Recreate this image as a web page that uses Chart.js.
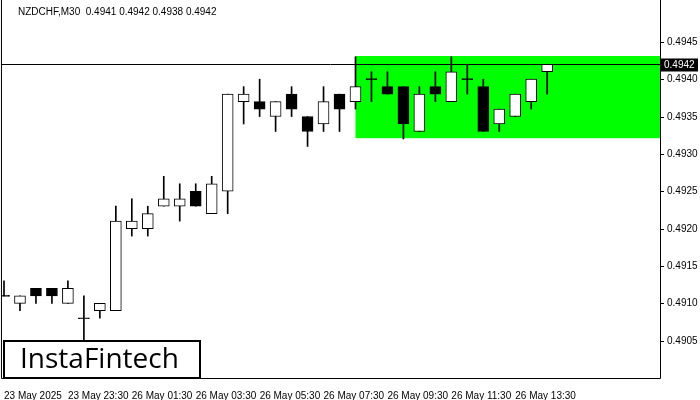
<!DOCTYPE html>
<html><head><meta charset="utf-8">
<script src="https://cdn.jsdelivr.net/npm/chart.js@4"></script>
<style>html,body{margin:0;padding:0;background:#fff}#w{position:relative;width:700px;height:400px}</style>
</head><body><div id="w"><canvas id="c" width="700" height="400"></canvas></div>
<script>
const symbolTitle = "NZDCHF,M30  0.4941 0.4942 0.4938 0.4942";
const tickLabels = ["23 May 2025","23 May 23:30","26 May 01:30","26 May 03:30","26 May 05:30","26 May 07:30","26 May 09:30","26 May 11:30","26 May 13:30"];
const openV  = [.4911,.4910,.4912,.4912,.4910,.4908,.4909,.4909,.4920,.4920,.4923,.4923,.4925,.4922,.4925,.4937,.4937,.4935,.4938,.4935,.4934,.4938,.4937,.4940,.4939,.4939,.4933,.4939,.4937,.4940,.4939,.4934,.4935,.4937,.4941];
const highV  = [.4913,.4911,.4912,.4912,.4913,.4911,.4910,.4923,.4924,.4923,.4927,.4926,.4926,.4927,.4938,.4939,.4940,.4937,.4939,.4935,.4939,.4938,.4943,.4941,.4941,.4939,.4939,.4941,.4943,.4942,.4940,.4936,.4938,.4940,.4942];
const lowV   = [.4911,.4909,.4910,.4910,.4910,.4905,.4908,.4909,.4919,.4919,.4923,.4921,.4923,.4922,.4922,.4934,.4935,.4933,.4935,.4931,.4933,.4933,.4936,.4937,.4938,.4932,.4933,.4937,.4937,.4938,.4933,.4933,.4935,.4936,.4938];
const closeV = [.4911,.4911,.4911,.4911,.4912,.4908,.4910,.4921,.4921,.4922,.4924,.4924,.4923,.4926,.4938,.4938,.4936,.4937,.4936,.4933,.4937,.4936,.4939,.4940,.4938,.4934,.4938,.4938,.4941,.4940,.4933,.4936,.4938,.4940,.4942];
const zoneStart = 22, zoneTop = 0.49431, zoneBottom = 0.49321;
const currentPrice = 0.4942;
const yTicks = [0.4905,0.4910,0.4915,0.4920,0.4925,0.4930,0.4935,0.4940,0.4945];

const idx = openV.map((_,i)=>i);
const wicks = idx.map(i=>({x:i,y:[lowV[i],highV[i]]}));
const bodies = idx.map(i=>{
  const o=openV[i],c=closeV[i];
  if(o===c) return {x:i,y:[o-0.000007,o+0.000007]};
  return {x:i,y:[o,c]};
});
const bodyFill = idx.map(i=> closeV[i]>openV[i] ? '#fff' : '#000');
const FONT='10px "Liberation Sans", Arial';

const overlay = {
  id:'overlay',
  beforeDatasetsDraw(ch){
    const {ctx,scales:{x,y},chartArea:a}=ch;
    ctx.save();
    ctx.fillStyle='#00ff00';
    const x0=x.getPixelForValue(zoneStart);
    ctx.fillRect(x0,y.getPixelForValue(zoneTop),a.right-x0,y.getPixelForValue(zoneBottom)-y.getPixelForValue(zoneTop));
    ctx.restore();
  },
  afterDatasetsDraw(ch){
    const {ctx,scales:{x,y},chartArea:a}=ch;
    ctx.save();
    ctx.strokeStyle='#000';ctx.lineWidth=1;ctx.fillStyle='#000';
    ctx.font=FONT;ctx.textBaseline='middle';
    yTicks.forEach(v=>{
      const py=Math.round(y.getPixelForValue(v))+0.5;
      ctx.beginPath();ctx.moveTo(a.right,py);ctx.lineTo(a.right+4,py);ctx.stroke();
      ctx.fillText(v.toFixed(4),a.right+7,py);
    });
    const py=Math.round(y.getPixelForValue(currentPrice))+0.5;
    ctx.beginPath();ctx.moveTo(a.left,py);ctx.lineTo(a.right,py);ctx.stroke();
    ctx.fillRect(a.right,py-6,38,13);
    ctx.fillStyle='#fff';
    ctx.fillText(currentPrice.toFixed(4),a.right+4,py+1);
    ctx.beginPath();ctx.moveTo(a.left+0.5,a.top);ctx.lineTo(a.left+0.5,a.bottom+0.5);ctx.lineTo(a.right+0.5,a.bottom+0.5);ctx.lineTo(a.right+0.5,a.top);ctx.stroke();
    ctx.fillStyle='#000';
    ctx.fillText(symbolTitle,18,12);
    ctx.fillStyle='#fff';ctx.fillRect(3,340,197,38);
    ctx.lineWidth=2;ctx.strokeRect(4,341,196,37);
    ctx.fillStyle='#000';ctx.font='500 28px "Open Sans", Arial';
    ctx.fillText('InstaFintech',20,360);
    ctx.restore();
  }
};

new Chart(document.getElementById('c'),{
  type:'bar',
  data:{datasets:[
    {data:wicks,backgroundColor:'#000',barThickness:1,grouped:false,order:2},
    {data:bodies,backgroundColor:bodyFill,borderColor:'#000',borderWidth:1,borderSkipped:false,barThickness:11,grouped:false,order:1}
  ]},
  options:{
    responsive:false,animation:false,
    layout:{padding:0},
    plugins:{legend:{display:false},tooltip:{enabled:false}},
    scales:{
      x:{type:'linear',offset:false,min:-0.19,max:41.06,
        grid:{display:false},border:{display:false},
        afterBuildTicks(s){s.ticks=tickLabels.map((_,k)=>({value:k*4}));},
        afterFit(s){s.height=22;},
        ticks:{autoSkip:false,maxRotation:0,align:'start',padding:4,color:'#000',font:{size:10,family:'"Liberation Sans", Arial'},
          callback:(v)=>tickLabels[Math.round(v/4)]}},
      y:{position:'right',min:0.4900,max:0.49506,
        grid:{display:false},border:{display:false},
        ticks:{display:false},
        afterFit(s){s.width=40;}}
    }
  },
  plugins:[overlay]
});
</script></body></html>
